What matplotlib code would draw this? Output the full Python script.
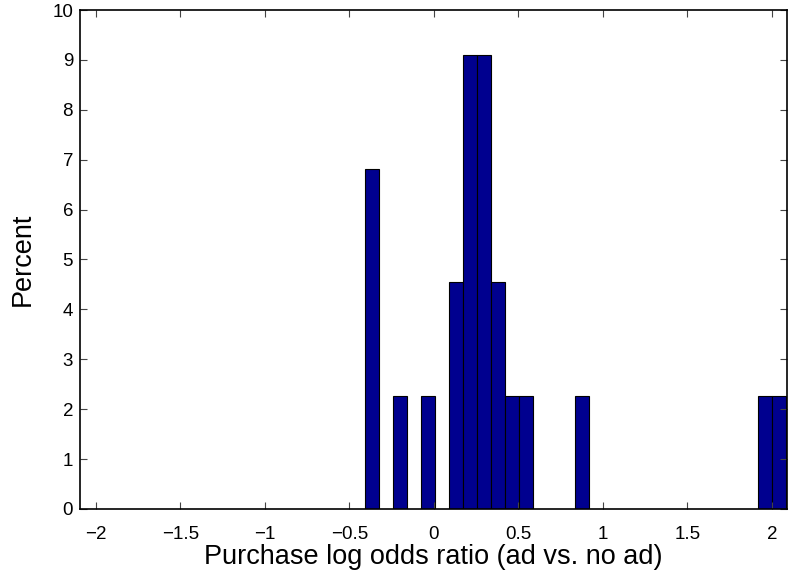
import matplotlib.pyplot as plt
import numpy as np

plt.rcParams['font.family'] = ['Liberation Sans', 'DejaVu Sans']

# histogram: 30 equal bins between the smallest and largest log odds ratio
bin_lo = -0.41
bin_hi = 2.085
n_bins = 30
percent = [6.82, 0, 2.27, 0, 2.27, 0, 4.55, 9.09, 9.09, 4.55,
           2.27, 2.27, 0, 0, 0, 2.27, 0, 0, 0, 0,
           0, 0, 0, 0, 0, 0, 0, 0, 2.27, 2.27]
xticks = [-2, -1.5, -1, -0.5, 0, 0.5, 1, 1.5, 2]
xticklabels = ['\u22122', '\u22121.5', '\u22121', '\u22120.5', '0', '0.5', '1', '1.5', '2']
yticks = list(range(0, 11))

edges = np.linspace(bin_lo, bin_hi, n_bins + 1)
centers = (edges[:-1] + edges[1:]) / 2
width = edges[1] - edges[0]
percent = np.array(percent)
keep = percent > 0

fig = plt.figure(figsize=(7.91, 5.75), dpi=100)
ax = fig.add_axes([0.1011, 0.1148, 0.8939, 0.8678])
ax.bar(centers[keep], percent[keep], width=width, color='#00008F',
       edgecolor='black', linewidth=0.8)

ax.set_xlim(-2.095, 2.09)
ax.set_ylim(0, 10)
ax.set_xticks(xticks)
ax.set_xticklabels(xticklabels)
ax.set_yticks(yticks)
ax.tick_params(direction='in', length=5, width=0.8, top=True, right=True,
               labelsize=13.5, color='#444444')
ax.tick_params(axis='x', pad=12)
ax.tick_params(axis='y', pad=5)
for s in ax.spines.values():
    s.set_linewidth(1.2)

ax.set_xlabel('Purchase log odds ratio (ad vs. no ad)', fontsize=19.5, labelpad=1)
ax.set_ylabel('Percent', fontsize=19.5, labelpad=12)

fig.savefig('out.png', dpi=100)
